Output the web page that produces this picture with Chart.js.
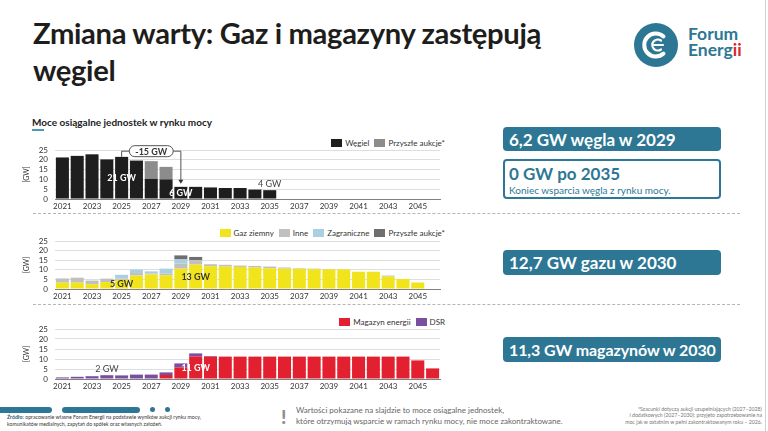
<!DOCTYPE html>
<html lang="pl">
<head>
<meta charset="utf-8">
<title>Zmiana warty: Gaz i magazyny zastępują węgiel</title>
<script src="https://cdn.jsdelivr.net/npm/chart.js@4.4.1/dist/chart.umd.min.js"></script>
<style>
  body { margin: 0; width: 768px; height: 431px; overflow: hidden; background: #fff;
         font-family: Lato, "Noto Sans", sans-serif; position: relative; color: #222; }
  .abs { position: absolute; }
  h1 { position: absolute; left: 33px; top: 14px; margin: 0; font-size: 29.2px; line-height: 37px;
       font-weight: 700; color: #1d1d1b; letter-spacing: -0.35px; }
  .logo-txt { position: absolute; left: 688px; top: 26px; font-size: 17.5px; line-height: 16px;
              color: #2d7794; font-weight: 700; }
  .logo-txt .r { color: #d9262e; }
  .section { position: absolute; left: 32px; top: 116px; font-size: 10px; font-weight: 700; color: #222; }
  .uline { position: absolute; left: 32px; top: 129px; width: 12px; height: 2px; background: #4a9bb8; }
  .chart { position: absolute; left: 20px; width: 430px; }
  .legend { position: absolute; right: 323px; display: flex; align-items: center; font-size: 8px; color: #333; }
  .legend span.sw { display: inline-block; width: 11px; height: 8px; margin: 0 3px 0 5px; }
  .dash { position: absolute; left: 33px; width: 707px; border-top: 1px dashed #b5b5b5; }
  .box { position: absolute; left: 503px; width: 218px; box-sizing: border-box; border-radius: 4px; white-space: nowrap; }
  .fill { background: #2d7794; color: #fff; font-size: 17px; font-weight: 700; padding-left: 6px;
          display: flex; align-items: center; }
  .line { border: 2px solid #2d7794; color: #2d7794; padding: 3px 0 0 4px; }
  .line .big { font-size: 17px; font-weight: 700; line-height: 20px; }
  .line .small { font-size: 10px; line-height: 13px; }
  .foot-l { position: absolute; left: 7px; top: 414px; font-size: 5.2px; line-height: 6.6px; color: #333; }
  .foot-l b { color: #1f5a73; }
  .foot-m { position: absolute; left: 296px; top: 405px; font-size: 8px; line-height: 11px; color: #666; }
  .excl { position: absolute; left: 281px; top: 405px; font-size: 19px; font-weight: 900; color: #8f8f8f; }
  .foot-r { position: absolute; right: 6px; top: 406px; font-size: 5.2px; line-height: 6.4px; color: #777; text-align: right; }
  .bar { position: absolute; height: 6px; border-radius: 3px; background: #2d7794; }
  .dot { position: absolute; width: 5px; height: 5px; border-radius: 50%; background: #2d7794; }
</style>
</head>
<body>

<h1>Zmiana warty: Gaz i magazyny zastępują<br>węgiel</h1>

<svg class="abs" style="left:632px;top:21px" width="50" height="50" viewBox="0 0 50 50">
  <circle cx="24" cy="24" r="22" fill="#2d7794"/>
  <path d="M31.5 15.5 A11.5 11.5 0 1 0 31.5 32.5" stroke="#fff" stroke-width="4" fill="none" stroke-linecap="round"/>
  <path d="M29 19.5 A5.5 5.5 0 1 0 29 28.5" stroke="#fff" stroke-width="2.2" fill="none" stroke-linecap="round"/>
  <line x1="22" y1="24" x2="31" y2="24" stroke="#fff" stroke-width="2.2" stroke-linecap="round"/>
</svg>
<div class="logo-txt">Forum<br>Energ<span class="r">ii</span></div>

<div class="section">Moce osiągalne jednostek w rynku mocy</div>
<div class="uline"></div>

<div class="legend" style="top:138px"><span class="sw" style="background:#1e1e1e"></span>Węgiel<span class="sw" style="background:#8c8c8c"></span>Przyszłe aukcje*</div>
<div class="chart" style="top:144px;height:69px"><canvas id="coalChart"></canvas></div>

<div class="dash" style="top:213px"></div>

<div class="legend" style="top:228px"><span class="sw" style="background:#f1e41c"></span>Gaz ziemny<span class="sw" style="background:#c0c0c0"></span>Inne<span class="sw" style="background:#a9d0e2"></span>Zagraniczne<span class="sw" style="background:#6e6e6e"></span>Przyszłe aukcje*</div>
<div class="chart" style="top:235px;height:68px"><canvas id="gasChart"></canvas></div>

<div class="dash" style="top:304px"></div>

<div class="legend" style="top:317px"><span class="sw" style="background:#e2202f"></span>Magazyn energii<span class="sw" style="background:#7b4fa0"></span>DSR</div>
<div class="chart" style="top:323px;height:70px"><canvas id="storageChart"></canvas></div>

<div class="box fill" style="top:127px;height:24px">6,2 GW węgla w 2029</div>
<div class="box line" style="top:159px;height:40px">
  <div class="big">0 GW po 2035</div>
  <div class="small">Koniec wsparcia węgla z rynku mocy.</div>
</div>
<div class="box fill" style="top:250px;height:25px">12,7 GW gazu w 2030</div>
<div class="box fill" style="top:337px;height:25px;font-size:16px;letter-spacing:-0.1px">11,3 GW magazynów w 2030</div>

<div class="bar" style="left:-3px;top:407px;width:55px"></div>
<div class="bar" style="left:62px;top:407px;width:78px"></div>
<div class="dot" style="left:150px;top:407px"></div>
<div class="dot" style="left:165px;top:407px"></div>
<div class="foot-l"><b>Źródło:</b> opracowanie własne Forum Energii na podstawie wyników aukcji rynku mocy,<br>komunikatów medialnych, zapytań do spółek oraz własnych założeń.</div>

<div class="excl">!</div>
<div class="foot-m">Wartości pokazane na slajdzie to moce osiągalne jednostek,<br>które otrzymują wsparcie w ramach rynku mocy, nie moce zakontraktowane.</div>

<div class="foot-r">*Szacunki dotyczą aukcji uzupełniających (2027–2028)<br>i dodatkowych (2027–2030); przyjęto zapotrzebowanie na<br>moc jak w ostatnim w pełni zakontraktowanym roku – 2026.</div>

<div class="abs" style="left:765px;top:0;width:1px;height:431px;background:#d0d0d0"></div>

<script>
// lata na osi X
const years = [2021, 2022, 2023, 2024, 2025, 2026, 2027, 2028, 2029, 2030, 2031, 2032, 2033,
               2034, 2035, 2036, 2037, 2038, 2039, 2040, 2041, 2042, 2043, 2044, 2045, 2046];
const yTicks = [0, 5, 10, 15, 20, 25];

// węgiel [GW]
const coal       = [21.2, 22.0, 22.8, 20.2, 21.5, 19.6, 10.3, 10.0, 6.2, 6.2, 5.9, 5.6, 5.6,
                    4.8, 4.5, 0, 0, 0, 0, 0, 0, 0, 0, 0, 0, 0];
const coalFuture = [0, 0, 0, 0, 0, 0, 9.0, 6.4, 0, 0, 0, 0, 0,
                    0, 0, 0, 0, 0, 0, 0, 0, 0, 0, 0, 0, 0];

// gaz i pozostałe [GW]
const gas        = [3.3, 3.3, 2.5, 3.6, 4.8, 7.0, 7.6, 7.2, 10.6, 12.7, 11.9, 11.7, 11.5,
                    11.2, 10.8, 10.6, 10.5, 10.3, 10.2, 10.2, 9.0, 9.0, 6.5, 5.2, 3.4, 0];
const gasOther   = [2.2, 2.6, 1.9, 1.8, 0.7, 1.3, 0.4, 0.8, 2.7, 2.3, 1.0, 0.9, 0.7,
                    0.8, 0.9, 0.6, 0.3, 0.3, 0.2, 0.1, 0, 0, 0.5, 0, 0, 0];
const gasForeign = [0, 0, 0, 0, 1.9, 1.8, 1.2, 2.6, 2.1, 0, 0, 0, 0,
                    0, 0, 0, 0, 0, 0, 0, 0, 0, 0, 0, 0, 0];
const gasFuture  = [0, 0, 0, 0, 0, 0, 0, 0, 2.1, 1.7, 0, 0, 0,
                    0, 0, 0, 0, 0, 0, 0, 0, 0, 0, 0, 0, 0];

// magazyny i DSR [GW]
const storage    = [0, 0, 0, 0, 0, 0, 0, 2.0, 5.8, 11.3, 11.2, 11.2, 11.2,
                    11.2, 11.2, 11.2, 11.2, 11.2, 11.2, 11.2, 11.2, 11.2, 11.2, 11.2, 9.3, 5.3];
const dsr        = [0.8, 1.1, 1.4, 1.9, 1.8, 2.2, 2.2, 1.3, 2.0, 1.5, 0.3, 0, 0,
                    0, 0, 0, 0, 0, 0, 0, 0, 0, 0, 0, 0, 0];

// podpisy na wykresach
const coalNotes = [
  { series: 0, year: 2025, text: '21 GW', at: 'mid', color: '#fff', weight: 'bold' },
  { series: 0, year: 2029, text: '6 GW', at: 'mid', color: '#fff', weight: 'bold' },
  { series: 0, year: 2035, text: '4 GW', at: 'above', color: '#444', weight: 'normal' }
];
const coalBracket = { from: 2025, to: 2029, level: 24.4, text: '-15 GW' };
const gasNotes = [
  { series: 0, year: 2025, text: '5 GW', at: 'mid', color: '#3b3b2a', weight: 'bold' },
  { series: 0, year: 2030, text: '13 GW', at: 'mid', color: '#3b3b2a', weight: 'bold' }
];
const storageNotes = [
  { series: 1, year: 2024, text: '2 GW', at: 'above', color: '#444', weight: 'normal' },
  { series: 0, year: 2030, text: '11 GW', at: 'mid', color: '#fff', weight: 'bold' }
];

Chart.defaults.font.family = 'Lato, "Noto Sans", sans-serif';

const notesPlugin = {
  id: 'notes',
  afterDatasetsDraw(chart, args, opts) {
    const ctx = chart.ctx;
    const xs = chart.scales.x, ys = chart.scales.y;
    const stackTop = i => chart.data.datasets.reduce((s, d) => s + d.data[i], 0);
    ctx.save();
    ctx.textAlign = 'center';
    ctx.textBaseline = 'middle';
    (opts.items || []).forEach(n => {
      const i = years.indexOf(n.year);
      const x = xs.getPixelForValue(i);
      let y;
      if (n.at === 'mid') {
        y = ys.getPixelForValue(chart.data.datasets[n.series].data[i] / 2);
      } else {
        y = ys.getPixelForValue(stackTop(i)) - 6;
      }
      ctx.font = n.weight + ' 9px Lato, "Noto Sans", sans-serif';
      ctx.fillStyle = n.color;
      ctx.fillText(n.text, x, y);
    });
    const b = opts.bracket;
    if (b) {
      const i1 = years.indexOf(b.from), i2 = years.indexOf(b.to);
      const x1 = xs.getPixelForValue(i1), x2 = xs.getPixelForValue(i2);
      const yl = ys.getPixelForValue(b.level);
      const y1 = ys.getPixelForValue(stackTop(i1));
      const y2 = ys.getPixelForValue(stackTop(i2)) - 3;
      ctx.strokeStyle = '#555';
      ctx.lineWidth = 1;
      ctx.beginPath();
      ctx.moveTo(x1, y1);
      ctx.lineTo(x1, yl);
      ctx.lineTo(x2, yl);
      ctx.lineTo(x2, y2 - 3);
      ctx.stroke();
      ctx.fillStyle = '#333';
      ctx.beginPath();
      ctx.moveTo(x2 - 2.5, y2 - 4);
      ctx.lineTo(x2 + 2.5, y2 - 4);
      ctx.lineTo(x2, y2);
      ctx.closePath();
      ctx.fill();
      // etykieta w owalu
      ctx.font = 'bold 9px Lato, "Noto Sans", sans-serif';
      const xm = xs.getPixelForValue((i1 + i2) / 2);
      const w = ctx.measureText(b.text).width + 12, h = 11;
      ctx.beginPath();
      ctx.roundRect(xm - w / 2, yl - h / 2, w, h, h / 2);
      ctx.fillStyle = '#fff';
      ctx.fill();
      ctx.strokeStyle = '#555';
      ctx.stroke();
      ctx.fillStyle = '#333';
      ctx.fillText(b.text, xm, yl + 0.5);
    }
    ctx.restore();
  }
};

function makeChart(id, datasets, notes, bracket) {
  return new Chart(document.getElementById(id), {
    type: 'bar',
    data: {
      labels: years,
      datasets: datasets.map(d => ({
        label: d.label,
        data: d.data,
        backgroundColor: d.color,
        borderWidth: 0,
        barPercentage: 0.88,
        categoryPercentage: 1.0
      }))
    },
    options: {
      responsive: true,
      maintainAspectRatio: false,
      animation: false,
      layout: { padding: { top: 6, right: 10, left: 0, bottom: 0 } },
      plugins: {
        legend: { display: false },
        tooltip: { enabled: false },
        notes: { items: notes, bracket: bracket }
      },
      scales: {
        x: {
          stacked: true,
          grid: { display: false, drawTicks: false },
          border: { color: '#808080', width: 1 },
          ticks: {
            autoSkip: false, maxRotation: 0, padding: 3, color: '#333',
            font: { size: 8 },
            callback: (v, i) => (i % 2 === 0 ? String(years[i]) : '')
          },
          afterFit: s => { s.height = 14; s.paddingLeft = 0; s.paddingRight = 0; }
        },
        y: {
          stacked: true,
          min: 0, max: 25,
          afterBuildTicks: s => { s.ticks = yTicks.map(v => ({ value: v })); },
          ticks: { autoSkip: false, padding: 7, color: '#333', font: { size: 8 } },
          grid: { color: '#dedede', drawTicks: false },
          border: { display: false },
          title: { display: true, text: '[GW]', color: '#333', font: { size: 7 }, padding: { top: 3, bottom: 0 } },
          afterFit: s => { s.width = 35; s.paddingTop = 0; s.paddingBottom = 0; }
        }
      }
    },
    plugins: [notesPlugin]
  });
}

makeChart('coalChart', [
  { label: 'Węgiel', data: coal, color: '#1e1e1e' },
  { label: 'Przyszłe aukcje*', data: coalFuture, color: '#8c8c8c' }
], coalNotes, coalBracket);

makeChart('gasChart', [
  { label: 'Gaz ziemny', data: gas, color: '#f1e41c' },
  { label: 'Inne', data: gasOther, color: '#c0c0c0' },
  { label: 'Zagraniczne', data: gasForeign, color: '#a9d0e2' },
  { label: 'Przyszłe aukcje*', data: gasFuture, color: '#6e6e6e' }
], gasNotes, null);

makeChart('storageChart', [
  { label: 'Magazyn energii', data: storage, color: '#e2202f' },
  { label: 'DSR', data: dsr, color: '#7b4fa0' }
], storageNotes, null);
</script>
</body>
</html>
